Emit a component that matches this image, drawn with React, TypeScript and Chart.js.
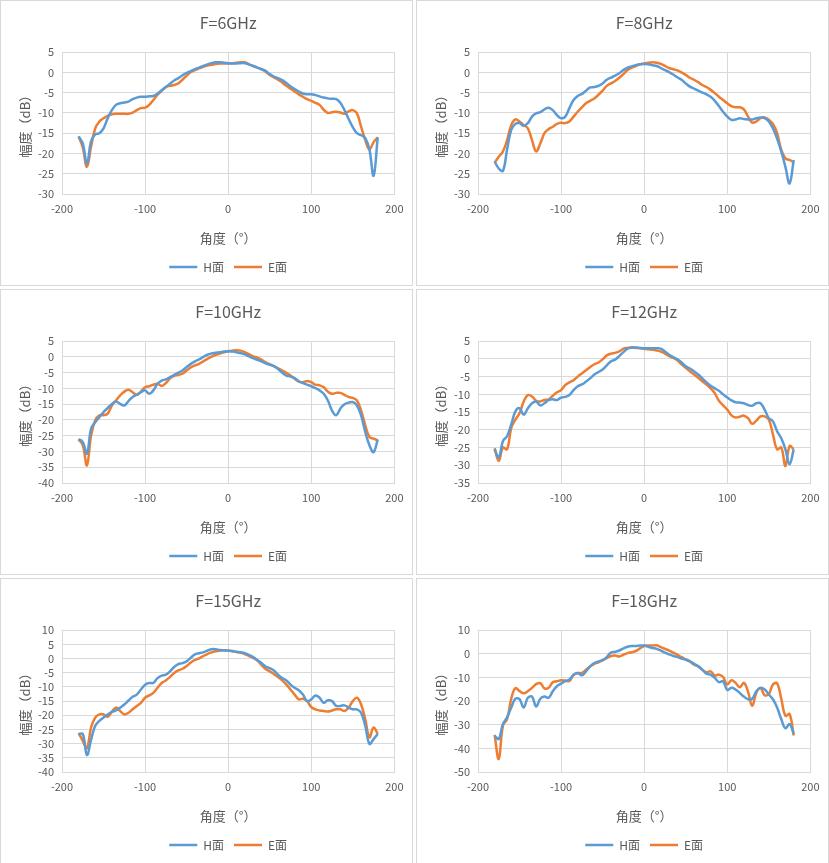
import { useEffect, useRef } from 'react';
import { Chart, registerables } from 'chart.js';

Chart.register(...registerables);

// angle axis (degrees), shared by every panel
const angles = [
  -180, -175, -170, -165, -160, -155, -150, -145, -140, -135,
  -130, -125, -120, -115, -110, -105, -100, -95, -90, -85,
  -80, -75, -70, -65, -60, -55, -50, -45, -40, -35,
  -30, -25, -20, -15, -10, -5, 0, 5, 10, 15,
  20, 25, 30, 35, 40, 45, 50, 55, 60, 65,
  70, 75, 80, 85, 90, 95, 100, 105, 110, 115,
  120, 125, 130, 135, 140, 145, 150, 155, 160, 165,
  170, 175, 180,
];

// 6 GHz
const h6 = [
  -15.8, -17.5, -22.5, -17, -15.3, -15, -13.8, -11.3, -9.3, -8,
  -7.6, -7.4, -7.2, -6.6, -6.2, -6, -6, -5.9, -5.8, -5.2,
  -4.4, -3.6, -2.8, -2, -1.4, -0.7, -0.1, 0.3, 0.8, 1.2,
  1.6, 2, 2.3, 2.5, 2.5, 2.4, 2.3, 2.2, 2.2, 2.3,
  2.3, 2, 1.6, 1.2, 0.8, 0.4, -0.4, -1, -1.4, -1.9,
  -2.6, -3.4, -4.1, -4.7, -5.2, -5.4, -5.4, -5.6, -5.9, -6.2,
  -6.4, -6.5, -6.6, -7.5, -9.3, -11.5, -13.5, -15, -15.5, -16.2,
  -19, -25.5, -16,
];
const e6 = [
  -15.8, -18.5, -23.3, -18.3, -13.8, -12.1, -11.3, -10.7, -10.3, -10.2,
  -10.2, -10.2, -10.2, -9.9, -9.3, -8.8, -8.7, -8, -6.8, -5.5,
  -4.5, -3.6, -3.3, -3.1, -2.7, -1.8, -0.8, 0.1, 0.6, 1,
  1.4, 1.7, 1.9, 2.1, 2.2, 2.2, 2.2, 2.3, 2.4, 2.5,
  2.5, 2, 1.6, 1.2, 0.8, 0.2, -0.6, -1.2, -1.8, -2.5,
  -3.3, -4, -4.7, -5.4, -6, -6.6, -7, -7.5, -8, -9.2,
  -10, -9.8, -9.7, -9.9, -10.2, -9.6, -9.3, -10.1, -13.4, -16.7,
  -19, -17.2, -16,
];

// 8 GHz
const h8 = [
  -22, -23.7, -24.3, -19, -14.2, -12.7, -12.5, -13.2, -12.5, -10.9,
  -10.1, -9.8, -9.1, -8.7, -9.3, -10.5, -11.3, -10.9, -8.8, -6.8,
  -5.8, -5.3, -4.5, -3.7, -3.6, -3.3, -2.7, -1.8, -1.3, -0.8,
  -0.2, 0.6, 1.2, 1.5, 1.8, 2, 2.1, 2, 1.8, 1.6,
  1.1, 0.6, 0.1, -0.5, -1.2, -1.8, -2.7, -3.5, -4, -4.5,
  -5, -5.4, -6, -7, -8.3, -9.7, -10.9, -11.7, -11.6, -11.3,
  -11.5, -11.6, -11.6, -11.3, -11.1, -11.3, -12.1, -13.8, -16.3, -19.5,
  -23.3, -27.4, -21.6,
];
const e8 = [
  -22.3, -20.8, -19.5, -16.7, -13, -11.6, -12.1, -13, -13.8, -16.7,
  -19.5, -17.5, -15, -14, -13.4, -12.7, -12.4, -12.5, -12.1, -10.9,
  -9.7, -8.6, -7.6, -7, -6.4, -5.5, -4.5, -3.3, -2.7, -2.1,
  -1.3, -0.4, 0.6, 1.2, 1.6, 2, 2.2, 2.4, 2.5, 2.4,
  2.1, 1.6, 1.1, 0.8, 0.5, 0, -0.6, -1.3, -1.8, -2.4,
  -3.1, -3.6, -4.3, -5.1, -6, -6.8, -7.6, -8.3, -8.6, -8.6,
  -9.1, -10.9, -12.4, -12.1, -11.3, -11.1, -11.7, -12.7, -15, -19.1,
  -21.2, -21.6, -22.2,
];

// 10 GHz
const h10 = [
  -26, -27, -30.7, -22.8, -20.7, -19.1, -17.5, -16.2, -14.9, -14.1,
  -14.9, -15.4, -14, -12.7, -12, -11.2, -10.6, -11.7, -10.6, -8.5,
  -7.5, -7.1, -6.4, -5.7, -5, -4.3, -3.2, -2.2, -1.4, -0.8,
  0, 0.7, 1.1, 1.3, 1.5, 1.7, 1.8, 1.7, 1.5, 1.2,
  0.8, 0.2, -0.4, -0.9, -1.4, -2, -2.5, -2.9, -3.8, -5,
  -5.9, -6.2, -6.7, -7.7, -8.3, -8.8, -9.3, -9.9, -10.6, -11.7,
  -13.8, -17, -18.5, -16.4, -15, -14.5, -14.3, -15.4, -18.5, -23.8,
  -28, -30.2, -26.2,
];
const e10 = [
  -26.2, -28, -34.4, -24.9, -20.1, -18.5, -18.5, -18, -15.4, -13.8,
  -12.2, -11, -10.4, -11.2, -12, -11, -9.6, -9.3, -8.8, -8.5,
  -9.2, -8.3, -6.8, -6, -5.7, -5.3, -4.3, -3.3, -2.7, -2.2,
  -1.4, -0.6, 0.1, 0.7, 1.1, 1.5, 1.8, 2, 2.1, 2,
  1.5, 0.9, 0.2, -0.2, -0.8, -1.7, -2.3, -2.9, -3.6, -4.3,
  -5, -5.9, -6.9, -7.8, -8, -7.6, -8, -8.8, -9, -9.6,
  -11, -11.7, -11.4, -11.4, -12, -12.7, -13, -13.8, -17, -21.7,
  -25.4, -25.9, -26.5,
];

// 12 GHz
const h12 = [
  -25.5, -27.8, -23.2, -21.8, -18.5, -14.8, -13.9, -15.7, -13.9, -12.5,
  -12, -13.1, -12.5, -11.6, -11.4, -11.6, -10.9, -10.7, -10.2, -8.8,
  -7.7, -7.2, -6.4, -5.5, -4.4, -3.7, -3, -1.8, -0.7, -0.2,
  0.8, 1.9, 2.9, 3.2, 3.2, 3.1, 3, 3, 3, 3,
  2.9, 2.1, 1.2, 0.5, -0.1, -1, -2.1, -2.7, -3.5, -4.4,
  -5.5, -6.6, -7.6, -8.3, -9, -10, -10.9, -11.7, -12.2, -12.3,
  -12.5, -13, -13.2, -12.5, -12.5, -14.3, -16.7, -17.6, -20.4, -22.4,
  -25.5, -29.7, -25.5,
];
const e12 = [
  -25.2, -28.8, -25, -25.5, -19.5, -17.1, -15.3, -12, -10.2, -10.6,
  -11.8, -12, -11.6, -11.4, -10.4, -9.4, -8.8, -7.4, -6.6, -6,
  -5, -4.1, -3.2, -2.3, -1.5, -1, -0.1, 1, 1.5, 1.7,
  2.1, 2.9, 3.1, 3.2, 3.1, 3, 2.9, 2.7, 2.6, 2.4,
  2.1, 1.5, 0.8, 0.3, -0.4, -1.5, -2.5, -3.5, -4.4, -5.3,
  -6.3, -7.2, -8.3, -9.7, -11.8, -13.1, -14.3, -15.9, -16.5, -16.3,
  -16, -16.7, -18.3, -17.4, -16.2, -16.2, -17.1, -21.3, -25.5, -25,
  -30.2, -24.6, -25.5,
];

// 15 GHz
const h15 = [
  -26.6, -26.6, -34, -28.6, -23.7, -22, -20.8, -19.7, -18.8, -18.3,
  -17.3, -16.2, -14.8, -13.5, -12.7, -10.9, -9.2, -8.6, -8.6, -6.9,
  -6, -5.7, -4.5, -3, -2, -1.6, -1, 0.3, 1.5, 1.9,
  2.2, 2.8, 3.3, 3.3, 3, 2.9, 2.8, 2.7, 2.4, 2.2,
  1.9, 1.3, 0.5, -0.5, -1.6, -2.8, -3.4, -4.2, -5.7, -6.9,
  -7.7, -9.2, -10.3, -11.2, -12.7, -15, -14.4, -13, -13.8, -15.6,
  -14.7, -15, -16.7, -16.7, -16.5, -17.3, -17.9, -17.9, -19.1, -23.7,
  -30.1, -28.4, -26.6,
];
const e15 = [
  -26.3, -29, -31.6, -24.3, -20.8, -19.7, -19.7, -20.5, -18.8, -17.3,
  -18.5, -19.7, -19.1, -17.9, -16.7, -15.6, -13.8, -13, -12.1, -10.3,
  -8.6, -7.7, -6.5, -5.1, -4.2, -3.6, -2.6, -1.4, -0.5, 0.1,
  0.9, 1.6, 2.2, 2.6, 2.8, 2.9, 2.8, 2.6, 2.3, 2.1,
  1.6, 0.9, 0.2, -0.7, -2.2, -3.7, -4.5, -5.5, -6.5, -7.7,
  -9.2, -10.9, -12.7, -14.4, -14.2, -15, -17.1, -17.9, -18.3, -18.5,
  -18.7, -18.3, -17.9, -17.9, -18.5, -17.3, -15, -13.8, -16.2, -21.4,
  -27.8, -24.3, -26.6,
];

// 18 GHz
const h18 = [
  -34.6, -36, -29.7, -26.9, -22.7, -19, -19.2, -22.7, -18.6, -18.1,
  -22.3, -19, -18.1, -18.6, -15.8, -13.7, -12.6, -11.6, -10.9, -8.8,
  -8.1, -9.1, -7.4, -5.3, -3.9, -3.2, -2.8, -1.4, 0.5, 0.9,
  1.4, 2.3, 3, 3.3, 3.3, 3.5, 3.5, 3, 2.5, 2.1,
  1.4, 0.5, -0.2, -0.9, -1.4, -2, -2.5, -3.2, -4.2, -5.3,
  -6.7, -8.4, -8.8, -10.2, -12, -11.6, -15.3, -14.4, -15.1, -16.5,
  -18.1, -19.2, -19, -15.8, -14.4, -15.1, -17.2, -19.2, -22.7, -27.6,
  -31.5, -29.7, -33.9,
];
const e18 = [
  -34.3, -44.5, -30.4, -27.6, -19, -14.5, -15.8, -16.7, -15.8, -14.4,
  -12.8, -12.4, -14.6, -14.4, -12, -11.6, -11.2, -11.3, -11.5, -9,
  -8.1, -8.1, -6.7, -5.3, -4.2, -3.6, -2.5, -1.8, -0.9, -0.7,
  -1.1, -0.4, 0.3, 0.7, 1.2, 2.3, 3.3, 3.5, 3.5, 3.6,
  2.8, 2.1, 1.4, 0.5, -0.4, -1.4, -2.3, -3.2, -4.6, -5.3,
  -6.7, -7.8, -7.4, -9.2, -8.8, -9.8, -13, -11.2, -12.3, -14.1,
  -12.3, -16, -22, -16.5, -14.5, -17.5, -17, -13, -12.5, -19,
  -26.2, -25.5, -34.6,
];

const FONT = "'Noto Sans CJK SC', 'Microsoft YaHei', sans-serif";
const TEXT = '#595959';
const GRID = '#d9d9d9';
const BLUE = '#5b9bd5';
const ORANGE = '#ed7d31';

const toPoints = (ys: number[]) => angles.map((x, i) => ({ x, y: ys[i] }));

interface PanelProps {
  title: string;
  h: number[];
  e: number[];
  yMin: number;
  yMax: number;
  yStep: number;
  left: number;
  top: number;
}

const Panel = ({ title, h, e, yMin, yMax, yStep, left, top }: PanelProps) => {
  const canvasRef = useRef<HTMLCanvasElement>(null);

  useEffect(() => {
    if (!canvasRef.current) return;
    const chart = new Chart(canvasRef.current, {
      type: 'line',
      data: {
        datasets: [
          {
            label: 'H面',
            data: toPoints(h),
            borderColor: BLUE,
            backgroundColor: BLUE,
            borderWidth: 2.5,
            pointRadius: 0,
            tension: 0.4,
            fill: false,
          },
          {
            label: 'E面',
            data: toPoints(e),
            borderColor: ORANGE,
            backgroundColor: ORANGE,
            borderWidth: 2.5,
            pointRadius: 0,
            tension: 0.4,
            fill: false,
          },
        ],
      },
      options: {
        responsive: false,
        animation: false,
        events: [],
        layout: { padding: { left: 0, right: 15, top: 0, bottom: 2 } },
        plugins: {
          // title and legend are centred on the plot area, like Excel does
          title: {
            display: true,
            fullSize: false,
            text: title,
            color: TEXT,
            font: { family: FONT, size: 16, weight: 'normal' },
            padding: { top: 12, bottom: 20 },
          },
          legend: {
            position: 'bottom',
            fullSize: false,
            labels: {
              usePointStyle: true,
              pointStyle: 'line',
              pointStyleWidth: 28,
              color: TEXT,
              font: { family: FONT, size: 12 },
              padding: 10,
            },
          },
          tooltip: { enabled: false },
        },
        scales: {
          x: {
            type: 'linear',
            min: -200,
            max: 200,
            ticks: { stepSize: 100, color: TEXT, font: { family: FONT, size: 11 }, padding: 8.5 },
            grid: { color: GRID, drawTicks: false },
            border: { color: GRID },
            title: {
              display: true,
              text: '角度（°）',
              color: TEXT,
              font: { family: FONT, size: 13 },
              padding: { top: 0, bottom: 5.2 },
            },
            afterFit: (scale: any) => {
              scale.height = 57;
            },
          },
          y: {
            type: 'linear',
            min: yMin,
            max: yMax,
            ticks: {
              stepSize: yStep,
              autoSkip: false,
              color: TEXT,
              font: { family: FONT, size: 11 },
              padding: 8,
            },
            grid: { color: GRID, drawTicks: false },
            border: { color: GRID },
            title: {
              display: true,
              text: '幅度（dB）',
              color: TEXT,
              font: { family: FONT, size: 13 },
              padding: { top: 16.2, bottom: 0 },
            },
            afterFit: (scale: any) => {
              scale.width = 61;
            },
          },
        },
      },
    });
    return () => chart.destroy();
  }, [title, h, e, yMin, yMax, yStep]);

  return (
    <div
      style={{
        position: 'absolute',
        left,
        top,
        width: 413,
        height: 286,
        boxSizing: 'border-box',
        border: '1px solid #d9d9d9',
        background: '#fff',
      }}
    >
      <canvas ref={canvasRef} width={411} height={284} style={{ display: 'block' }} />
    </div>
  );
};

export default function App() {
  return (
    <div style={{ position: 'absolute', left: 0, top: 0, width: 829, height: 863, background: '#fff' }}>
      <Panel title="F=6GHz" h={h6} e={e6} yMin={-30} yMax={5} yStep={5} left={0} top={0} />
      <Panel title="F=8GHz" h={h8} e={e8} yMin={-30} yMax={5} yStep={5} left={416} top={0} />
      <Panel title="F=10GHz" h={h10} e={e10} yMin={-40} yMax={5} yStep={5} left={0} top={289} />
      <Panel title="F=12GHz" h={h12} e={e12} yMin={-35} yMax={5} yStep={5} left={416} top={289} />
      <Panel title="F=15GHz" h={h15} e={e15} yMin={-40} yMax={10} yStep={5} left={0} top={578} />
      <Panel title="F=18GHz" h={h18} e={e18} yMin={-50} yMax={10} yStep={10} left={416} top={578} />
    </div>
  );
}
